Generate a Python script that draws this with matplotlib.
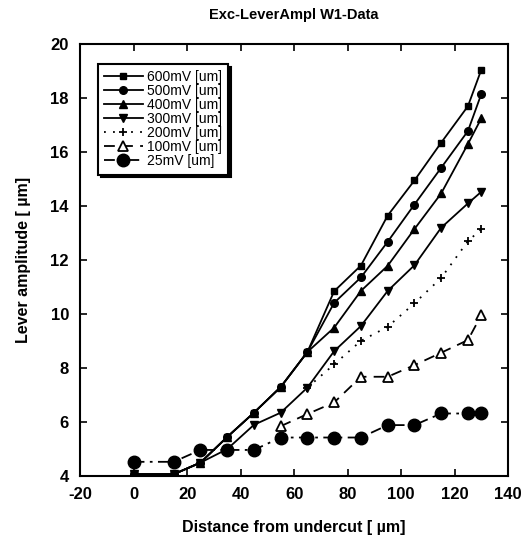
import matplotlib
matplotlib.use("Agg")
import matplotlib.pyplot as plt

plt.rcParams["font.family"] = ["Liberation Sans", "DejaVu Sans"]
plt.rcParams["axes.unicode_minus"] = False

# distances from undercut [um]
x_all = [0, 15, 25, 35, 45, 55, 65, 75, 85, 95, 105, 115, 125, 130]
x_200 = [65, 75, 85, 95, 105, 115, 125, 130]
x_100 = [55, 65, 75, 85, 95, 105, 115, 125, 130]

# lever amplitude [um]
y_600 = [4.07, 4.07, 4.5, 5.45, 6.35, 7.3, 8.6, 10.85, 11.8, 13.65, 14.95, 16.35, 17.7, 19.05]
y_500 = [4.07, 4.07, 4.5, 5.45, 6.35, 7.3, 8.6, 10.42, 11.36, 12.68, 14.06, 15.42, 16.78, 18.15]
y_400 = [4.07, 4.07, 4.5, 5.45, 6.35, 7.3, 8.6, 9.5, 10.86, 11.79, 13.15, 14.47, 16.3, 17.25]
y_300 = [4.07, 4.07, 4.5, 5.0, 5.9, 6.35, 7.28, 8.63, 9.56, 10.86, 11.81, 13.2, 14.1, 14.53]
y_200 = [7.28, 8.14, 9.01, 9.53, 10.4, 11.34, 12.7, 13.15]
y_100 = [5.85, 6.3, 6.73, 7.68, 7.68, 8.11, 8.57, 9.04, 9.96]
y_25 = [4.53, 4.53, 4.97, 4.97, 4.97, 5.43, 5.43, 5.43, 5.43, 5.89, 5.89, 6.32, 6.32, 6.32]

x_ticks = [-20, 0, 20, 40, 60, 80, 100, 120, 140]
y_ticks = [4, 6, 8, 10, 12, 14, 16, 18, 20]

fig = plt.figure(figsize=(5.27, 5.38), dpi=100)
ax = fig.add_axes([0.152, 0.115, 0.812, 0.803])

lw = 1.3
ax.plot(x_all, y_600, color="black", lw=lw, marker="s", ms=4.5, label="600mV [um]")
ax.plot(x_all, y_500, color="black", lw=lw, marker="o", ms=5.5, label="500mV [um]")
ax.plot(x_all, y_400, color="black", lw=lw, marker="^", ms=5.5, label="400mV [um]")
ax.plot(x_all, y_300, color="black", lw=lw, marker="v", ms=5.5, label="300mV [um]")
ax.plot(x_200, y_200, color="black", lw=lw, ls=(0, (1, 4)), marker="+", ms=5.5,
        mew=1.3, label="200mV [um]")
ax.plot(x_100, y_100, color="black", lw=lw, ls=(0, (6, 4)), marker="^", ms=7,
        mfc="white", mew=1.3, label="100mV [um]")
ax.plot(x_all, y_25, color="black", lw=lw, ls=(0, (6, 3, 1.5, 3)), marker="o",
        ms=9, label="25mV [um]")

ax.set_xlim(-20, 140)
ax.set_ylim(4, 20)
ax.set_xticks(x_ticks)
ax.set_yticks(y_ticks)
ax.tick_params(direction="in", top=True, right=True, length=5, width=1.2,
               labelsize=12, pad=8)
for lab in ax.get_xticklabels() + ax.get_yticklabels():
    lab.set_fontweight("bold")
for sp in ax.spines.values():
    sp.set_linewidth(1.5)

ax.set_title("Exc-LeverAmpl W1-Data", fontsize=10.5, fontweight="bold", pad=18)
ax.set_xlabel("Distance from undercut [ \u00b5m]", fontsize=11.5, fontweight="bold", labelpad=13)
ax.set_ylabel("Lever amplitude [ \u00b5m]", fontsize=11.5, fontweight="bold", labelpad=14)

leg = ax.legend(loc="upper left", bbox_to_anchor=(0.025, 0.97), fontsize=10,
                handlelength=2.8, labelspacing=0.0, borderpad=0.45,
                handletextpad=0.3, fancybox=False, framealpha=1,
                shadow={"color": "black", "alpha": 1})
leg.get_frame().set_edgecolor("black")
leg.get_frame().set_linewidth(1.5)

fig.savefig("out.png", dpi=100)
